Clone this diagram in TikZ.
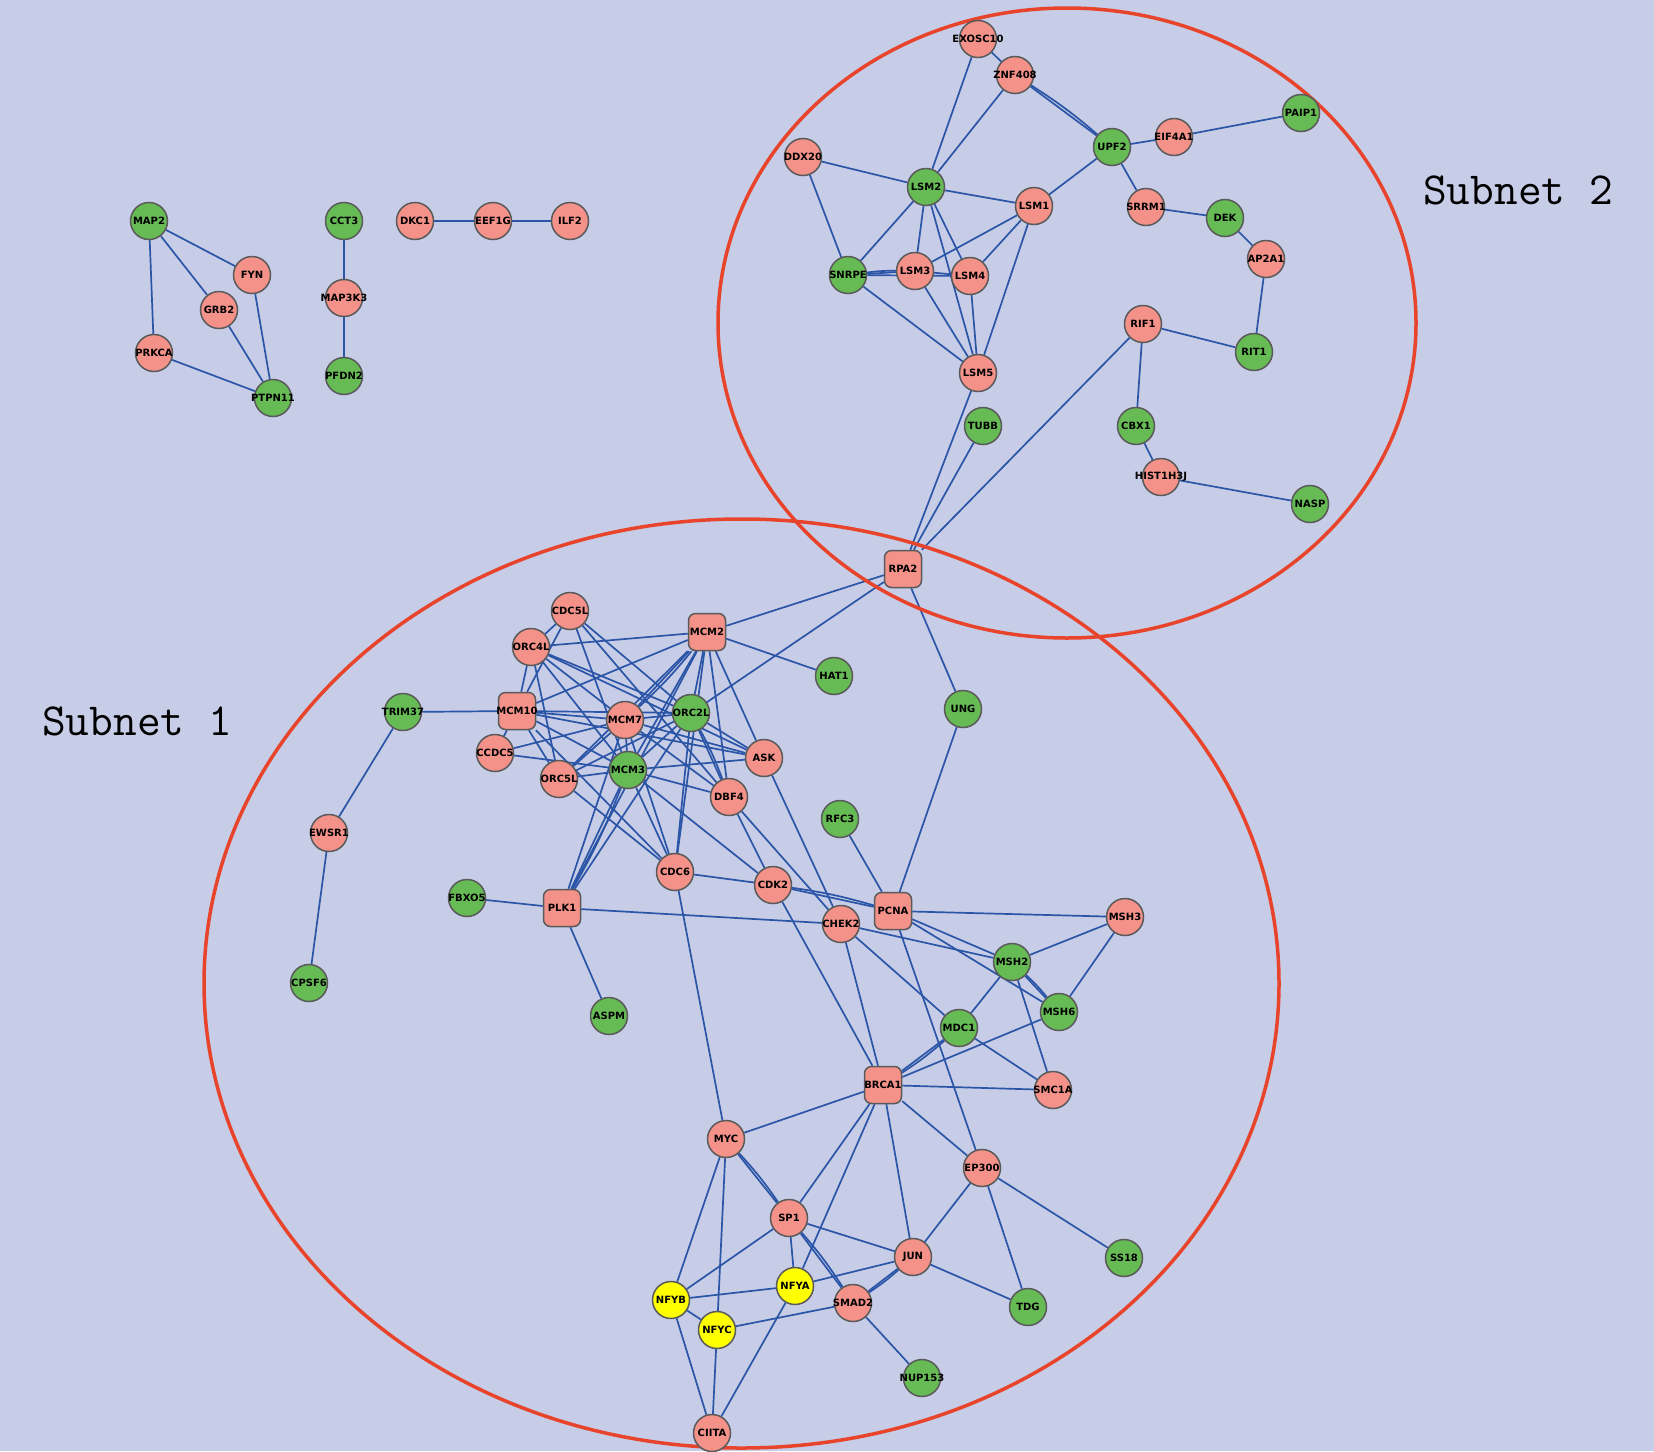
\documentclass[tikz,border=0pt]{standalone}
\usepackage{fontspec}
\newfontfamily\lab{DejaVu Sans}
\pgfdeclarelayer{bglayer}
\pgfdeclarelayer{edgelayer}
\pgfsetlayers{bglayer,edgelayer,main}
\definecolor{bgc}{HTML}{C7CCE7}
\definecolor{pinkc}{HTML}{F4928A}
\definecolor{greenc}{HTML}{66BB55}
\definecolor{yellowc}{HTML}{FFFF00}
\definecolor{edgec}{HTML}{2B55A6}
\definecolor{redc}{HTML}{E8442C}
\definecolor{borderc}{HTML}{5A5A5A}
\tikzset{
 base/.style={draw=borderc, line width=1.5pt, inner sep=0pt, font=\lab\bfseries\fontsize{10}{12}\selectfont, text=black},
 pk/.style={base, circle, minimum size=37pt, fill=pinkc},
 gn/.style={base, circle, minimum size=37pt, fill=greenc},
 yl/.style={base, circle, minimum size=37pt, fill=yellowc},
 sq/.style={base, rectangle, rounded corners=7pt, minimum width=37pt, minimum height=37pt, fill=pinkc},
 edge/.style={draw=edgec, line width=1.7pt},
 subnet/.style={draw=redc, line width=3.5pt},
 sublabel/.style={font=\ttfamily\fontsize{46}{50}\selectfont, text=black, inner sep=0pt}
}
\newcommand\nd[4]{\node[#1] (#2) at (#3) {\makebox[0pt]{#4}};}
\begin{document}
\begin{tikzpicture}[x=1pt,y=-1pt]
\useasboundingbox (0,0) rectangle (1654,1451);
\begin{pgfonlayer}{bglayer}
\fill[bgc] (0,0) rectangle (1654,1451);
\end{pgfonlayer}
% pink circles
\nd{pk}{FYN}{252,275}{FYN}
\nd{pk}{GRB2}{219,310}{GRB2}
\nd{pk}{PRKCA}{154,353}{PRKCA}
\nd{pk}{MAP3K3}{344,298}{MAP3K3}
\nd{pk}{DKC1}{415,221}{DKC1}
\nd{pk}{EEF1G}{493,221}{EEF1G}
\nd{pk}{ILF2}{570,221}{ILF2}
\nd{pk}{EXOSC10}{978,39}{EXOSC10}
\nd{pk}{ZNF408}{1015,75}{ZNF408}
\nd{pk}{EIF4A1}{1174,137}{EIF4A1}
\nd{pk}{DDX20}{803,157}{DDX20}
\nd{pk}{LSM1}{1034,206}{LSM1}
\nd{pk}{SRRM1}{1146,207}{SRRM1}
\nd{pk}{AP2A1}{1266,259}{AP2A1}
\nd{pk}{LSM3}{915,271}{LSM3}
\nd{pk}{LSM4}{970,276}{LSM4}
\nd{pk}{RIF1}{1143,324}{RIF1}
\nd{pk}{LSM5}{978,373}{LSM5}
\nd{pk}{HIST1H3J}{1161,477}{HIST1H3J}
\nd{pk}{CDC5L}{570,611}{CDC5L}
\nd{pk}{ORC4L}{531,647}{ORC4L}
\nd{pk}{MCM7}{625,720}{MCM7}
\nd{pk}{CCDC5}{495,753}{CCDC5}
\nd{pk}{ASK}{764,758}{ASK}
\nd{pk}{ORC5L}{559,779}{ORC5L}
\nd{pk}{DBF4}{729,797}{DBF4}
\nd{pk}{CDC6}{675,872}{CDC6}
\nd{pk}{CDK2}{773,885}{CDK2}
\nd{pk}{CHEK2}{841,924}{CHEK2}
\nd{pk}{MSH3}{1125,917}{MSH3}
\nd{pk}{SMC1A}{1053,1090}{SMC1A}
\nd{pk}{EWSR1}{329,833}{EWSR1}
\nd{pk}{MYC}{726,1139}{MYC}
\nd{pk}{EP300}{982,1168}{EP300}
\nd{pk}{SP1}{789,1218}{SP1}
\nd{pk}{JUN}{913,1257}{JUN}
\nd{pk}{SMAD2}{853,1303}{SMAD2}
\nd{pk}{CIITA}{712,1433}{CIITA}
% green circles
\nd{gn}{MAP2}{149,221}{MAP2}
\nd{gn}{PTPN11}{273,398}{PTPN11}
\nd{gn}{CCT3}{344,221}{CCT3}
\nd{gn}{PFDN2}{344,376}{PFDN2}
\nd{gn}{PAIP1}{1301,113}{PAIP1}
\nd{gn}{UPF2}{1112,147}{UPF2}
\nd{gn}{LSM2}{926,187}{LSM2}
\nd{gn}{DEK}{1225,218}{DEK}
\nd{gn}{SNRPE}{848,275}{SNRPE}
\nd{gn}{RIT1}{1254,352}{RIT1}
\nd{gn}{TUBB}{983,426}{TUBB}
\nd{gn}{CBX1}{1136,426}{CBX1}
\nd{gn}{NASP}{1310,504}{NASP}
\nd{gn}{HAT1}{834,676}{HAT1}
\nd{gn}{TRIM37}{403,712}{TRIM37}
\nd{gn}{ORC2L}{691,713}{ORC2L}
\nd{gn}{UNG}{963,709}{UNG}
\nd{gn}{MCM3}{628,770}{MCM3}
\nd{gn}{RFC3}{840,819}{RFC3}
\nd{gn}{FBXO5}{467,898}{FBXO5}
\nd{gn}{CPSF6}{309,983}{CPSF6}
\nd{gn}{ASPM}{609,1016}{ASPM}
\nd{gn}{MSH2}{1012,962}{MSH2}
\nd{gn}{MSH6}{1059,1012}{MSH6}
\nd{gn}{MDC1}{959,1028}{MDC1}
\nd{gn}{SS18}{1124,1258}{SS18}
\nd{gn}{TDG}{1028,1307}{TDG}
\nd{gn}{NUP153}{922,1378}{NUP153}
% yellow
\nd{yl}{NFYA}{795,1286}{NFYA}
\nd{yl}{NFYB}{671,1300}{NFYB}
\nd{yl}{NFYC}{717,1330}{NFYC}
% squares
\nd{sq}{RPA2}{903,569}{RPA2}
\nd{sq}{MCM2}{707,632}{MCM2}
\nd{sq}{MCM10}{517,711}{MCM10}
\nd{sq}{PLK1}{562,908}{PLK1}
\nd{sq}{PCNA}{893,911}{PCNA}
\nd{sq}{BRCA1}{883,1085}{BRCA1}
% labels
\node[sublabel] (sub1) at (137,721) {Subnet 1};
\node[sublabel] (sub2) at (1518,190) {Subnet 2};
\begin{pgfonlayer}{edgelayer}
\foreach \a/\b in {MAP2/FYN, MAP2/GRB2, MAP2/PRKCA, FYN/PTPN11, GRB2/PTPN11, PRKCA/PTPN11,
 CCT3/MAP3K3, MAP3K3/PFDN2, DKC1/EEF1G, EEF1G/ILF2,
 EXOSC10/ZNF408, EXOSC10/LSM2, ZNF408/LSM2, ZNF408/UPF2, UPF2/EIF4A1, EIF4A1/PAIP1, UPF2/SRRM1, UPF2/LSM1,
 SRRM1/DEK, DEK/AP2A1, AP2A1/RIT1, RIF1/RIT1, RIF1/CBX1, CBX1/HIST1H3J, HIST1H3J/NASP, RIF1/RPA2,
 DDX20/LSM2, DDX20/SNRPE, LSM2/LSM1, LSM2/SNRPE, LSM2/LSM3, LSM2/LSM4, LSM2/LSM5,
 LSM1/LSM3, LSM1/LSM4, LSM1/LSM5, SNRPE/LSM3, SNRPE/LSM4, LSM3/LSM4, SNRPE/LSM5, LSM3/LSM5, LSM4/LSM5,
 LSM5/RPA2, TUBB/RPA2,
 RPA2/MCM2, RPA2/ORC2L, RPA2/UNG, UNG/PCNA,
 MCM2/HAT1, MCM2/ORC4L, MCM2/MCM10, MCM2/MCM7, MCM2/ORC2L, MCM2/MCM3, MCM2/ORC5L, MCM2/ASK, MCM2/DBF4, MCM2/CDC6, MCM2/PLK1,
 ORC4L/CDC5L, ORC4L/MCM10, ORC4L/ORC5L, ORC4L/MCM7, ORC4L/MCM3, ORC4L/ORC2L, ORC4L/ASK,
 CDC5L/MCM10, CDC5L/MCM3, CDC5L/ORC2L, CDC5L/DBF4,
 MCM10/TRIM37, MCM10/MCM7, MCM10/ORC2L, MCM10/MCM3, MCM10/CCDC5, MCM10/ORC5L, MCM10/ASK, MCM10/CDC6,
 CCDC5/MCM7, CCDC5/MCM3,
 ORC5L/MCM7, ORC5L/MCM3, ORC5L/ORC2L, ORC5L/CDC6,
 MCM7/ORC2L, MCM7/MCM3, MCM7/ASK, MCM7/DBF4, MCM7/CDC6, MCM7/PLK1,
 ORC2L/MCM3, ORC2L/DBF4, ORC2L/CDC6, ORC2L/ASK, ORC2L/PLK1,
 MCM3/ASK, MCM3/DBF4, MCM3/CDC6, MCM3/PLK1, MCM3/CDK2,
 DBF4/CDK2, DBF4/CHEK2, ASK/CHEK2,
 PLK1/FBXO5, PLK1/ASPM, PLK1/CHEK2,
 CDK2/PCNA, CDK2/BRCA1, CDK2/CDC6,
 CHEK2/BRCA1, CHEK2/MDC1, CHEK2/MSH2,
 PCNA/RFC3, PCNA/MSH3, PCNA/MSH2, PCNA/MSH6, PCNA/EP300,
 MSH2/MSH3, MSH2/MSH6, MSH2/MDC1, MSH2/SMC1A, MSH6/MSH3, MSH6/BRCA1, MDC1/BRCA1, MDC1/SMC1A, BRCA1/SMC1A,
 BRCA1/MYC, BRCA1/SP1, BRCA1/NFYA, BRCA1/JUN, BRCA1/EP300,
 MYC/CDC6, MYC/SP1, MYC/NFYB, MYC/NFYC,
 SP1/NFYB, SP1/NFYA, SP1/JUN, SP1/SMAD2,
 JUN/EP300, JUN/TDG, JUN/SMAD2, JUN/NFYA,
 EP300/TDG, EP300/SS18,
 NFYA/NFYB, NFYA/CIITA, NFYB/NFYC, NFYB/CIITA, NFYC/CIITA, NFYC/SMAD2, SMAD2/NUP153,
 TRIM37/EWSR1, EWSR1/CPSF6}
 \draw[edge] (\a) -- (\b);
\foreach \a/\b in {ZNF408/UPF2, SNRPE/LSM3, MCM2/MCM7, MCM3/PLK1, CDK2/PCNA, MSH2/MSH6, MDC1/BRCA1, MYC/SP1, SP1/SMAD2, JUN/SMAD2, ORC2L/DBF4}
 \draw[edge] (\a) to[bend left=4] (\b);
\draw[subnet] (1067,323) ellipse [x radius=349, y radius=315];
\draw[subnet] (741.5,983.5) ellipse [x radius=537.5, y radius=464.5];
\end{pgfonlayer}
\end{tikzpicture}
\end{document}
